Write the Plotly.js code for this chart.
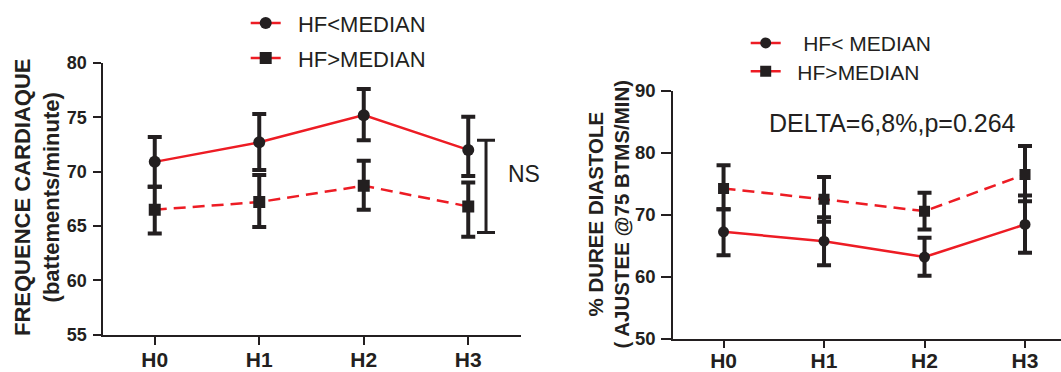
<!DOCTYPE html>
<html>
<head>
<meta charset="utf-8">
<script src="https://cdn.plot.ly/plotly-3.0.1.min.js"></script>
<style>html,body{margin:0;padding:0;background:#fff;}#chart{width:1061px;height:372px;}</style>
</head>
<body>
<div id="chart"></div>
<script>
// ---------- DATA ----------
const categories = ['H0', 'H1', 'H2', 'H3'];
const seriesNames = ['HF&lt;MEDIAN', 'HF&gt;MEDIAN'];
const seriesNamesRight = ['HF&lt; MEDIAN', 'HF&gt;MEDIAN'];

// Left panel: FREQUENCE CARDIAQUE (battements/minute)
const hrLowMean = [70.9, 72.7, 75.2, 72.0];
const hrLowErrPlus = [2.3, 2.6, 2.4, 3.05];
const hrLowErrMinus = [2.3, 2.55, 2.3, 2.4];
const hrHighMean = [66.5, 67.2, 68.7, 66.8];
const hrHighErrPlus = [2.1, 2.5, 2.3, 2.2];
const hrHighErrMinus = [2.2, 2.3, 2.2, 2.8];
const nsRange = [64.4, 72.9];

// Right panel: % DUREE DIASTOLE (AJUSTEE @75 BTMS/MIN)
const diaLowMean = [67.26, 65.76, 63.2, 68.45];
const diaLowErrPlus = [3.64, 3.84, 3.1, 4.65];
const diaLowErrMinus = [3.76, 3.86, 3.0, 4.55];
const diaHighMean = [74.25, 72.5, 70.6, 76.5];
const diaHighErrPlus = [3.75, 3.6, 2.95, 4.6];
const diaHighErrMinus = [3.35, 3.6, 2.95, 4.3];

const leftTicks = [55, 60, 65, 70, 75, 80];
const rightTicks = [50, 60, 70, 80, 90];

// ---------- STYLE ----------
const W = 1061, H = 372;
const FONT = 'Arial, "Liberation Sans", Helvetica, sans-serif';
const INK = '#231f20';
const RED = '#ed1c24';
const px = v => v / W;
const py = v => 1 - v / H;
const xIdx = categories.map((_, i) => i);
const nsBarX = 3.17;
const pad = n => '\u00a0'.repeat(n);

function errs(plus, minus, w) {
  return {type: 'data', symmetric: false, array: plus, arrayminus: minus,
          color: INK, thickness: 4, width: w || 7};
}
function trace(xa, ya, y, plus, minus, name, dash, symbol, legend, msize) {
  return {
    x: xIdx, y: y, xaxis: xa, yaxis: ya, name: name, legend: legend,
    type: 'scatter', mode: 'lines+markers',
    line: {color: RED, width: 2.5, dash: dash},
    marker: {color: INK, size: msize || 12, symbol: symbol},
    error_y: errs(plus, minus),
    hoverinfo: 'x+y'
  };
}

const data = [
  trace('x', 'y', hrLowMean, hrLowErrPlus, hrLowErrMinus, pad(2) + seriesNames[0], 'solid', 'circle', 'legend'),
  trace('x', 'y', hrHighMean, hrHighErrPlus, hrHighErrMinus, pad(2) + seriesNames[1], '12px,7px', 'square', 'legend2'),
  {
    x: [nsBarX], y: [(nsRange[0] + nsRange[1]) / 2], xaxis: 'x', yaxis: 'y',
    type: 'scatter', mode: 'markers', showlegend: false,
    marker: {size: 1, opacity: 0},
    error_y: {type: 'data', symmetric: true, array: [(nsRange[1] - nsRange[0]) / 2],
              color: INK, thickness: 3, width: 9},
    hoverinfo: 'skip'
  },
  trace('x2', 'y2', diaLowMean, diaLowErrPlus, diaLowErrMinus, pad(3) + seriesNamesRight[0], 'solid', 'circle', 'legend3', 11),
  trace('x2', 'y2', diaHighMean, diaHighErrPlus, diaHighErrMinus, pad(2) + seriesNamesRight[1], '12px,7px', 'square', 'legend4', 11)
];

function xax(domain, range, tl, so) {
  return {
    domain: domain, range: range, tickmode: 'array', tickvals: xIdx, ticktext: categories,
    showline: true, linewidth: 2, linecolor: INK, ticks: 'outside', ticklen: tl, tickwidth: 2,
    tickcolor: INK, showgrid: false, zeroline: false, fixedrange: true,
    ticklabelstandoff: so,
    tickfont: {family: FONT, size: 21, color: INK, weight: 'bold'}
  };
}
function yax(domain, range, ticks, anchor, fs, tl) {
  return {
    domain: domain, range: range, tickmode: 'array', tickvals: ticks,
    showline: true, linewidth: 2, linecolor: INK, ticks: 'outside', ticklen: tl, tickwidth: 2,
    tickcolor: INK, showgrid: false, zeroline: false, fixedrange: true, anchor: anchor,
    ticklabelstandoff: 2,
    tickfont: {family: FONT, size: fs, color: INK, weight: 'bold'}
  };
}
function leg(x, y, size) {
  return {x: px(x), y: py(y), xanchor: 'left', yanchor: 'middle', bgcolor: 'rgba(0,0,0,0)',
          borderwidth: 0, itemwidth: 30, font: {family: FONT, size: size, color: INK}};
}

const layout = {
  width: W, height: H,
  margin: {l: 0, r: 0, t: 0, b: 0, pad: 0},
  paper_bgcolor: '#fff', plot_bgcolor: '#fff',
  font: {family: FONT, color: INK},
  xaxis: Object.assign(xax([px(102.5), px(520.5)], [-0.5, 3.5], 8, -3), {anchor: 'y'}),
  yaxis: yax([py(334.6), py(63)], [55, 80], leftTicks, 'x', 18, 8),
  xaxis2: Object.assign(xax([px(673.3), 1], [-0.5, 3.358], 7, -5), {anchor: 'y2'}),
  yaxis2: yax([py(339), py(90.7)], [50, 90], rightTicks, 'x2', 18.5, 10),
  legend: leg(245.7, 23.3, 22),
  legend2: leg(245.7, 58.3, 22),
  legend3: leg(745.7, 43.3, 21),
  legend4: leg(745.7, 71.7, 21),
  annotations: [
    {text: 'FREQUENCE CARDIAQUE<br>(battements/minute)', xref: 'paper', yref: 'paper',
     x: px(36.5), y: py(197.5), xanchor: 'center', yanchor: 'middle', textangle: -90,
     showarrow: false, font: {family: FONT, size: 22, color: INK, weight: 'bold'}},
    {text: '% DUREE DIASTOLE<br>( AJUSTEE @75 BTMS/MIN)', xref: 'paper', yref: 'paper',
     x: px(608.5), y: py(214), xanchor: 'center', yanchor: 'middle', textangle: -90,
     showarrow: false, font: {family: FONT, size: 20.5, color: INK, weight: 'bold'}},
    {text: 'NS', xref: 'paper', yref: 'paper', x: px(524), y: py(174), xanchor: 'center',
     yanchor: 'middle', showarrow: false, font: {family: FONT, size: 23, color: INK}},
    {text: 'DELTA=6,8%,p=0.264', xref: 'paper', yref: 'paper', x: px(892.5), y: py(122.5),
     xanchor: 'center', yanchor: 'middle', showarrow: false,
     font: {family: FONT, size: 25, color: INK}}
  ]
};

Plotly.newPlot('chart', data, layout, {displayModeBar: false, responsive: false});
</script>
</body>
</html>
